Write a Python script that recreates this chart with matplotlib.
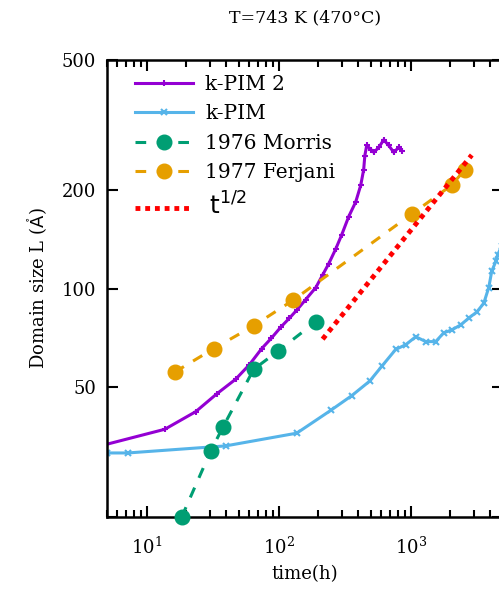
import numpy as np
import matplotlib
matplotlib.use('Agg')
import matplotlib.pyplot as plt
from matplotlib.ticker import FixedLocator, FixedFormatter, NullFormatter, LogLocator

plt.rcParams['font.family'] = ['DejaVu Serif']
plt.rcParams['mathtext.fontset'] = 'dejavusans'

# k-PIM 2 (purple)
kpim2_t = [5.0, 13.7, 23.5, 33.9, 47.2, 60, 74.3, 88, 104, 120, 137, 160, 191, 215, 239, 270,
           300, 339, 383, 418, 440, 449, 464, 500, 525, 573, 624, 681, 743, 811, 855]
kpim2_L = [33.4, 37.1, 42.0, 47.6, 52.8, 58.5, 65.5, 70.5, 76.3, 81.0, 85.9, 92.5, 100.7, 110, 119, 132,
           146, 166, 184, 207, 231, 255, 274, 266, 261, 270, 285, 274, 261, 270, 264]

# k-PIM (blue)
kpim_t = [5.0, 7.2, 39.6, 137, 248, 357, 489, 603, 769, 916, 1091, 1300, 1546, 1778, 2046,
          2393, 2750, 3162, 3573, 3900, 4110, 4410, 4560, 4900]
kpim_L = [31.4, 31.4, 33.0, 36.1, 42.4, 47.0, 52.1, 57.8, 65.1, 67.3, 71.2, 68.8, 68.8, 73.2, 74.7,
          77.4, 81.2, 84.7, 90.1, 100.7, 113, 121, 127, 135]

# 1976 Morris (green)
morris_t = [18.4, 30.5, 37.7, 64.6, 98, 190]
morris_L = [20.0, 31.8, 37.6, 56.6, 64.2, 79.0]

# 1977 Ferjani (orange)
ferjani_t = [16.3, 32.2, 64.6, 128, 1019, 2040, 2570]
ferjani_L = [55.5, 65.5, 76.9, 92.0, 169, 207, 231]

# t^(1/2) guide
sqrt_t = [215, 2900]
sqrt_L = [70, 256]

fig = plt.figure(figsize=(4.99, 5.94), dpi=100)
ax = fig.add_axes([107 / 499, 77 / 594, 396 / 499, 457 / 594])

ax.plot(kpim2_t, kpim2_L, color='#9400D3', lw=2.2, marker='+', ms=5, mew=1.5, label='k-PIM 2')
ax.plot(kpim_t, kpim_L, color='#56B4E9', lw=2.2, marker='x', ms=5, mew=1.5, label='k-PIM')
ax.plot(morris_t, morris_L, color='#009E73', lw=2.2, ls=(0, (3.5, 3.5)), marker='o', ms=10.5,
        label='1976 Morris', clip_on=False, zorder=3)
ax.plot(ferjani_t, ferjani_L, color='#E69F00', lw=2.2, ls=(0, (3.5, 3.5)), marker='o', ms=10.5,
        label='1977 Ferjani')
ax.plot(sqrt_t, sqrt_L, color='#FF0000', lw=3.5, ls=(0, (1, 1)), label=r'$\,\mathrm{t}^{1/2}$')

ax.set_xscale('log')
ax.set_yscale('log')
ax.set_xlim(5, 5000)
ax.set_ylim(20, 500)

ax.xaxis.set_major_locator(FixedLocator([10, 100, 1000]))
ax.xaxis.set_major_formatter(FixedFormatter([r'$\mathdefault{10^{1}}$', r'$\mathdefault{10^{2}}$',
                                             r'$\mathdefault{10^{3}}$']))
ax.xaxis.set_minor_locator(LogLocator(base=10, subs=np.arange(2, 10)))
ax.xaxis.set_minor_formatter(NullFormatter())
ax.yaxis.set_major_locator(FixedLocator([20, 50, 100, 200, 500]))
ax.yaxis.set_major_formatter(FixedFormatter(['', '50', '100', '200', '500']))
ax.yaxis.set_minor_locator(FixedLocator([]))

ax.tick_params(which='both', direction='in', top=True, right=True, width=1.5, labelsize=13)
ax.tick_params(which='major', length=8)
ax.tick_params(which='minor', length=5)
ax.tick_params(axis='x', which='major', pad=14)
ax.tick_params(axis='y', which='major', pad=8)
for s in ax.spines.values():
    s.set_linewidth(1.8)

ax.set_xlabel('time(h)', fontsize=13, labelpad=5)
ax.set_ylabel(r'Domain size L ($\mathring{\mathrm{A}}$)', fontsize=13, labelpad=8)
ax.set_title('T=743 K (470°C)', fontsize=12.5, pad=27)

leg = ax.legend(loc='upper left', bbox_to_anchor=(0.05, 0.985), borderaxespad=0, frameon=False,
                fontsize=14.5, handlelength=2.9, numpoints=1, labelspacing=0.52, handletextpad=0.6)
leg.get_texts()[4].set_fontsize(18)

fig.savefig('out.png', dpi=100)
